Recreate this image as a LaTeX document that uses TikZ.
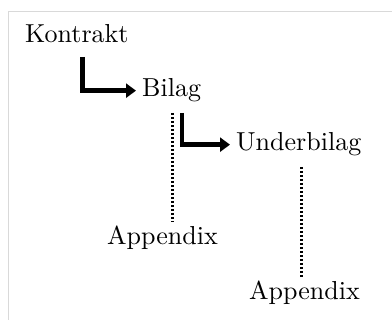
\documentclass[tikz,border=0pt]{standalone}
\usepackage{fontspec}
\setmainfont{lmroman10-regular.otf}
\usetikzlibrary{arrows.meta}
\begin{document}
\begin{tikzpicture}[x=1pt,y=-1pt,
  label/.style={inner sep=0pt,anchor=base west,font=\fontsize{26}{30}\selectfont},
  elbow/.style={line width=4.5pt,-{Triangle[length=10pt,width=14pt]},shorten >=6pt},
  dotline/.style={line width=3pt,dash pattern=on 2pt off 2pt},
  frame/.style={draw=black!15,line width=1.5pt}]
\useasboundingbox (0,0) rectangle (392,320);
% light frame along the top and left edge
\draw[frame] (8.5,320) -- (8.5,11.5) -- (392,11.5);

\node[label] (kontrakt) at (25,43) {Kontrakt};
\node[label] (bilag) at (142,97) {Bilag};
\node[label] (underbilag) at (236,151) {Underbilag};
\node[label] (app1) at (107,245) {Appendix};
\node[label] (app2) at (249,300) {Appendix};

% start points of the connectors below their parent labels
\coordinate (k1) at (82.5,57);
\coordinate (b1) at (182,113);
\coordinate (b2) at (172,113);
\coordinate (u1) at (301,167);

\draw[elbow] (k1) |- (bilag.west);
\draw[elbow] (b1) |- (underbilag.west);
\draw[dotline] (b2) -- ([yshift=4pt]b2 |- app1.north);
\draw[dotline] (u1) -- ([yshift=4pt]u1 |- app2.north);
\end{tikzpicture}
\end{document}
